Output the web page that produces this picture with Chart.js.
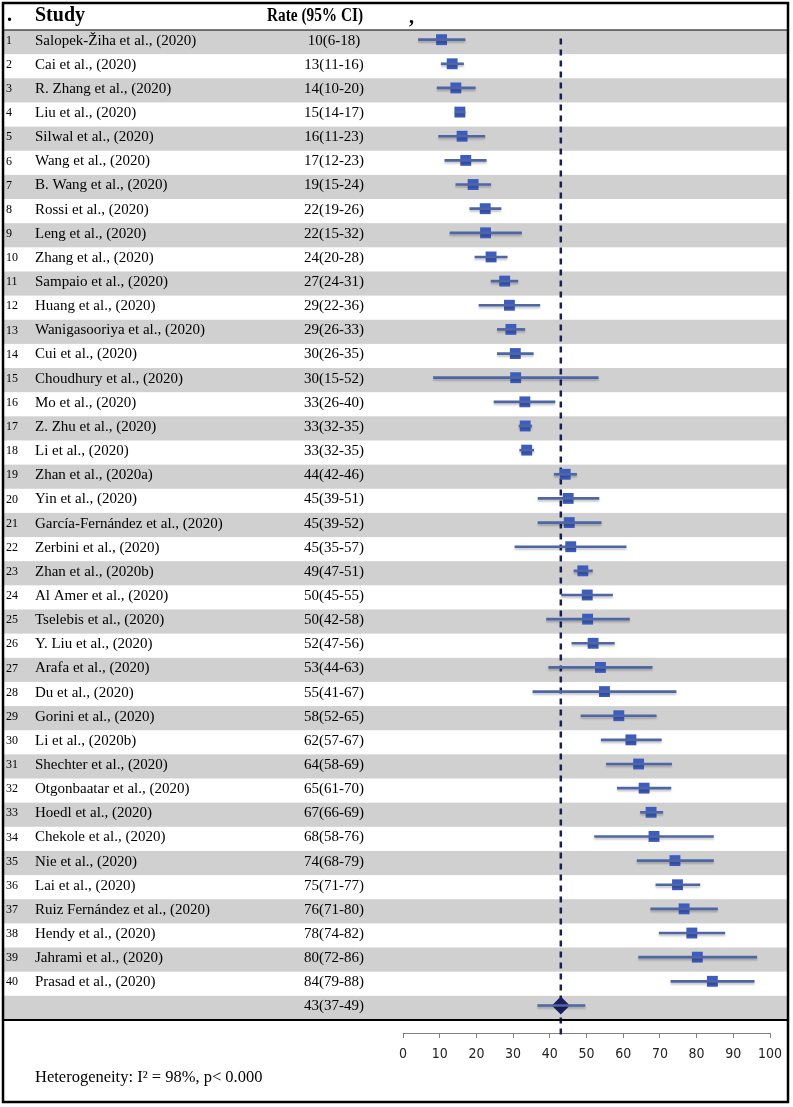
<!DOCTYPE html>
<html>
<head>
<meta charset="utf-8">
<script src="https://cdn.jsdelivr.net/npm/chart.js@4.4.1/dist/chart.umd.min.js"></script>
<style>
  html, body { margin: 0; padding: 0; background: #fff; }
  #wrap { width: 793px; height: 1107px; }
</style>
</head>
<body>
<div id="wrap"><canvas id="forest" width="793" height="1107"></canvas></div>
<script>
// forest plot of pooled rates

const studies = [
  "Salopek-Žiha et al., (2020)", "Cai et al., (2020)", "R. Zhang et al., (2020)", "Liu et al., (2020)",
  "Silwal et al., (2020)", "Wang et al., (2020)", "B. Wang et al., (2020)", "Rossi et al., (2020)",
  "Leng et al., (2020)", "Zhang et al., (2020)", "Sampaio et al., (2020)", "Huang et al., (2020)",
  "Wanigasooriya et al., (2020)", "Cui et al., (2020)", "Choudhury et al., (2020)", "Mo et al., (2020)",
  "Z. Zhu et al., (2020)", "Li et al., (2020)", "Zhan et al., (2020a)", "Yin et al., (2020)",
  "García-Fernández et al., (2020)", "Zerbini et al., (2020)", "Zhan et al., (2020b)", "Al Amer et al., (2020)",
  "Tselebis et al., (2020)", "Y. Liu et al., (2020)", "Arafa et al., (2020)", "Du et al., (2020)",
  "Gorini et al., (2020)", "Li et al., (2020b)", "Shechter et al., (2020)", "Otgonbaatar et al., (2020)",
  "Hoedl et al., (2020)", "Chekole et al., (2020)", "Nie et al., (2020)", "Lai et al., (2020)",
  "Ruiz Fernández et al., (2020)", "Hendy et al., (2020)", "Jahrami et al., (2020)", "Prasad et al., (2020)"
];

const rateLabels = [
  "10(6-18)", "13(11-16)", "14(10-20)", "15(14-17)", "16(11-23)", "17(12-23)", "19(15-24)", "22(19-26)",
  "22(15-32)", "24(20-28)", "27(24-31)", "29(22-36)", "29(26-33)", "30(26-35)", "30(15-52)", "33(26-40)",
  "33(32-35)", "33(32-35)", "44(42-46)", "45(39-51)", "45(39-52)", "45(35-57)", "49(47-51)", "50(45-55)",
  "50(42-58)", "52(47-56)", "53(44-63)", "55(41-67)", "58(52-65)", "62(57-67)", "64(58-69)", "65(61-70)",
  "67(66-69)", "68(58-76)", "74(68-79)", "75(71-77)", "76(71-80)", "78(74-82)", "80(72-86)", "84(79-88)"
];

// positions of the drawn marks
const estimates = [
  10.5, 13.4, 14.4, 15.5, 16.1, 17.1, 19.1, 22.4, 22.5, 24.0, 27.7, 29.0, 29.4, 30.6, 30.7, 33.2,
  33.3, 33.7, 44.2, 45.0, 45.3, 45.7, 49.0, 50.2, 50.3, 51.8, 53.8, 54.9, 58.8, 62.1, 64.2, 65.7,
  67.6, 68.4, 74.1, 74.8, 76.6, 78.7, 80.2, 84.3
];
const lower = [
  4.2, 10.4, 9.3, 14.2, 9.7, 11.4, 14.4, 18.2, 12.8, 19.6, 24.0, 20.7, 25.7, 25.7, 8.3, 24.8,
  31.6, 31.8, 41.2, 36.8, 36.8, 30.5, 46.6, 43.2, 39.1, 46.0, 39.7, 35.4, 48.5, 54.0, 55.4, 58.4,
  64.7, 52.2, 63.8, 68.9, 67.5, 69.8, 64.2, 73.0
];
const upper = [
  16.9, 16.5, 19.7, 16.9, 22.3, 22.7, 23.9, 26.7, 32.3, 28.4, 31.3, 37.3, 33.2, 35.5, 53.2, 41.4,
  35.1, 35.6, 47.3, 53.4, 54.0, 60.8, 51.6, 57.1, 61.7, 57.6, 67.9, 74.4, 69.0, 70.4, 73.2, 73.0,
  70.8, 84.6, 84.6, 80.9, 85.7, 87.7, 96.4, 95.7
];

const pooledEstimate = 43;
const pooledLower = 36.7;
const pooledUpper = 49.6;
const pooledLabel = "43(37-49)";
const heterogeneityText = "Heterogeneity: I\u00b2 = 98%, p< 0.000";

const headers = [".", "Study", "Rate (95% CI)", ","];

const nRows = studies.length + 1; // studies + pooled row
const serif = "'Liberation Serif', 'Times New Roman', serif";
const narrow = "'Liberation Sans Narrow', 'DejaVu Sans Condensed', 'Liberation Sans', sans-serif";

const ciData = studies.map((s, i) => ({ x: [lower[i], upper[i]], y: i }));
ciData.push({ x: [pooledLower, pooledUpper], y: studies.length });

const forestDecor = {
  id: "forestDecor",
  beforeDatasetsDraw(chart) {
    const ctx = chart.ctx;
    const y = chart.scales.y;
    const x = chart.scales.x;
    ctx.save();
    // row bands
    ctx.fillStyle = "#d0d0d0";
    for (let i = 0; i < nRows; i += 2) {
      const top = y.getPixelForValue(i - 0.4);
      const bot = y.getPixelForValue(i + 0.6);
      ctx.fillRect(4, top, 783, bot - top);
    }
    // pooled reference line
    const px = x.getPixelForValue(pooledEstimate);
    ctx.strokeStyle = "#1a1f4d";
    ctx.lineWidth = 2.5;
    ctx.setLineDash([6, 5]);
    ctx.beginPath();
    ctx.moveTo(px, y.getPixelForValue(-0.05));
    ctx.lineTo(px, chart.chartArea.bottom + 3);
    ctx.stroke();
    ctx.restore();
  },
  beforeDatasetDraw(chart, args) {
    chart.ctx.save();
    if (args.index === 0) {
      chart.ctx.shadowColor = "rgba(0,0,0,0.22)";
      chart.ctx.shadowOffsetY = 2;
      chart.ctx.shadowBlur = 2;
    }
  },
  afterDatasetDraw(chart) {
    chart.ctx.restore();
  },
  afterDraw(chart) {
    const ctx = chart.ctx;
    const y = chart.scales.y;
    ctx.save();

    // frame lines
    ctx.strokeStyle = "#000";
    ctx.lineWidth = 1.2;
    ctx.beginPath();
    ctx.moveTo(3, y.getPixelForValue(-0.4));
    ctx.lineTo(788, y.getPixelForValue(-0.4));
    ctx.stroke();
    ctx.lineWidth = 2;
    ctx.beginPath();
    ctx.moveTo(3, y.getPixelForValue(nRows - 0.4));
    ctx.lineTo(788, y.getPixelForValue(nRows - 0.4));
    ctx.stroke();
    ctx.lineWidth = 2.5;
    ctx.strokeRect(3, 3, 785, 1099);

    // header
    ctx.fillStyle = "#000";
    ctx.textBaseline = "middle";
    ctx.textAlign = "left";
    ctx.font = "bold 20px " + serif;
    ctx.fillText(headers[0], 7, 16);
    ctx.fillText(headers[1], 35, 16, 50);
    ctx.font = "bold 18px " + serif;
    ctx.fillText(headers[2], 267, 16, 96);
    ctx.font = "bold 20px " + serif;
    ctx.fillText(headers[3], 409, 18);

    // rows
    studies.forEach((s, i) => {
      const py = y.getPixelForValue(i) + 1;
      ctx.textAlign = "left";
      ctx.font = "12px " + serif;
      ctx.fillText(String(i + 1), 6, py);
      ctx.font = "15px " + serif;
      ctx.fillText(s, 35, py);
      ctx.textAlign = "center";
      ctx.fillText(rateLabels[i], 334, py);
    });
    ctx.textAlign = "center";
    ctx.fillText(pooledLabel, 334, y.getPixelForValue(studies.length) + 1);

    ctx.textAlign = "left";
    ctx.font = "16.5px " + serif;
    ctx.fillText(heterogeneityText, 35, 1078);
    ctx.restore();
  }
};

new Chart(document.getElementById("forest"), {
  data: {
    datasets: [
      {
        type: "bar",
        indexAxis: "y",
        data: ciData,
        backgroundColor: "#4e66a6",
        borderWidth: 0,
        barThickness: 2,
        borderSkipped: false
      },
      {
        type: "scatter",
        data: estimates.map((v, i) => ({ x: v, y: i })),
        pointStyle: "rect",
        pointRadius: 7.7,
        backgroundColor: "#3d5cbf",
        borderWidth: 0
      },
      {
        type: "scatter",
        data: [{ x: pooledEstimate, y: studies.length }],
        pointStyle: "rectRot",
        pointRadius: 9,
        backgroundColor: "#1b1e5a",
        borderWidth: 0
      }
    ]
  },
  options: {
    responsive: false,
    animation: false,
    layout: { padding: { left: 403, right: 23, top: 30, bottom: 34 } },
    plugins: { legend: { display: false }, tooltip: { enabled: false } },
    scales: {
      x: {
        type: "linear",
        min: 0,
        max: 100,
        offset: false,
        ticks: { stepSize: 10, color: "#222", padding: 8, font: { family: narrow, size: 14 } },
        grid: { drawOnChartArea: false, tickLength: 5, color: "#808080", offset: false },
        border: { color: "#808080", width: 1 },
        afterFit(scale) { scale.height = 40; }
      },
      y: {
        type: "linear",
        min: -0.4,
        max: 41.14,
        reverse: true,
        offset: false,
        grid: { offset: false },
        display: false
      }
    }
  },
  plugins: [forestDecor]
});
</script>
</body>
</html>
